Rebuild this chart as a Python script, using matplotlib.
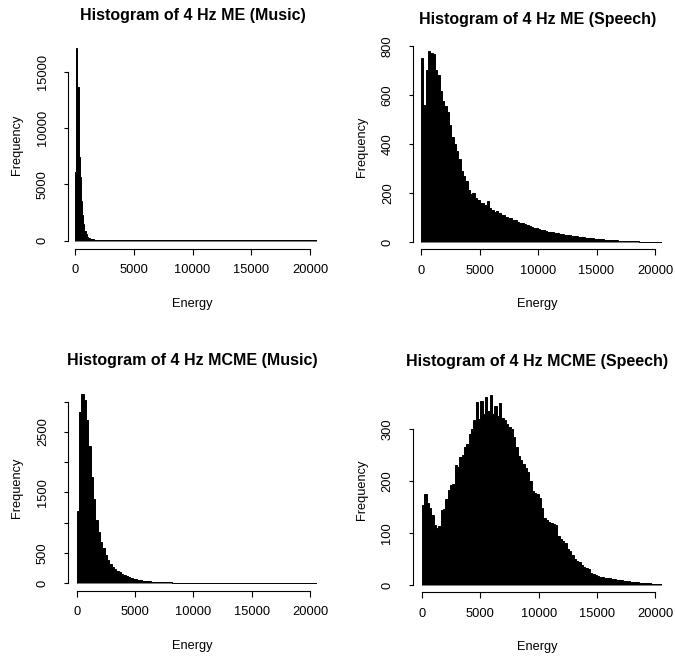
import numpy as np
import matplotlib
matplotlib.use('Agg')
import matplotlib.pyplot as plt

# ---- data ----
titles = [
    "Histogram of 4 Hz ME (Music)",
    "Histogram of 4 Hz ME (Speech)",
    "Histogram of 4 Hz MCME (Music)",
    "Histogram of 4 Hz MCME (Speech)",
]
x_label = "Energy"
y_label = "Frequency"
x_ticks = [0, 5000, 10000, 15000, 20000]

# bin widths (histogram breaks spacing)
me_music_bw = 100
me_speech_bw = 200
mcme_music_bw = 200
mcme_speech_bw = 200

# counts per bin, starting at energy 0
me_music = [
    6050, 17100, 13650, 7400, 5600, 3500, 2300, 1460, 830, 540,
    300, 240, 180, 130, 100, 90, 80, 70, 60, 50,
    45, 40, 36, 32, 28, 25, 22, 20, 18, 16,
    15, 14, 13, 12, 11, 10, 9, 9, 8, 8,
    7, 7, 6, 6, 6, 5, 5, 5, 5, 4,
    4, 4, 4, 4, 3, 3, 3, 3, 3, 3,
    3, 3, 2, 2, 2, 2, 2, 2, 2, 2,
    2, 2, 2, 2, 2, 1, 1, 1, 1, 1,
    1, 1, 1, 1, 1, 1, 1, 1, 1, 1,
    1, 1, 1, 1, 1, 1, 1, 1, 1, 1,
    1, 1, 1, 1, 1, 1, 1, 1, 1, 1,
    1, 1, 1, 1, 1, 1, 1, 1, 1, 1,
    1, 1, 1, 1, 1, 1, 1, 1, 1, 1,
    1, 1, 1, 1, 1, 1, 1, 1, 1, 1,
    1, 1, 1, 1, 1, 1, 1, 1, 1, 1,
    1, 1, 1, 1, 1, 1, 1, 1, 1, 1,
    1, 1, 1, 1, 1, 1, 1, 1, 1, 1,
    1, 1, 1, 1, 1, 1, 1, 1, 1, 1,
    1, 1, 1, 1, 1, 1, 1, 1, 1, 1,
    1, 1, 1, 1, 1, 1, 1, 1, 1, 1,
    1, 1, 1, 1, 1, 1,
]
me_speech = [
    750, 560, 700, 778, 772, 766, 700, 680, 615, 575,
    555, 530, 478, 430, 400, 372, 340, 290, 268, 248,
    212, 198, 200, 180, 172, 160, 158, 150, 168, 140,
    130, 125, 126, 118, 112, 110, 104, 98, 99, 92,
    90, 84, 80, 77, 76, 70, 66, 64, 58, 57,
    54, 50, 49, 44, 43, 41, 40, 38, 37, 35,
    33, 31, 30, 28, 26, 25, 24, 22, 21, 20,
    19, 18, 17, 16, 14, 13, 12, 12, 11, 10,
    9, 9, 8, 8, 7, 7, 6, 6, 5, 5,
    4, 4, 4, 3, 3, 3, 3, 2, 2, 2,
    2, 1, 1,
]
mcme_music = [
    1200, 2830, 3135, 3025, 2690, 2265, 1760, 1400, 1050, 850,
    690, 580, 470, 385, 320, 270, 235, 205, 180, 160,
    135, 115, 98, 84, 73, 64, 56, 50, 45, 40,
    36, 32, 29, 27, 25, 22, 20, 18, 16, 15,
    14, 13, 12, 11, 10, 10, 9, 9, 8, 8,
    7, 7, 7, 6, 6, 6, 5, 5, 5, 5,
    4, 4, 4, 4, 4, 3, 3, 3, 3, 3,
    3, 3, 3, 2, 2, 2, 2, 2, 2, 2,
    2, 2, 2, 2, 1, 1, 1, 1, 1, 1,
    1, 1, 1, 1, 1, 1, 1, 1, 1, 1,
    1, 1, 1,
]
mcme_speech = [
    155, 175, 158, 148, 135, 116, 110, 113, 145, 147,
    165, 183, 192, 194, 232, 228, 246, 250, 266, 272,
    290, 300, 318, 352, 320, 355, 330, 362, 335, 367,
    330, 345, 325, 350, 322, 318, 310, 305, 300, 285,
    265, 248, 240, 233, 225, 218, 200, 182, 178, 175,
    168, 148, 130, 125, 122, 120, 118, 116, 95, 88,
    84, 80, 70, 66, 58, 50, 47, 44, 38, 35,
    33, 30, 24, 21, 19, 18, 16, 15, 14, 13,
    13, 12, 11, 10, 10, 9, 8, 8, 7, 6,
    6, 5, 5, 4, 4, 3, 3, 3, 2, 2,
    2, 2, 1,
]

me_music_yticks = [0, 5000, 10000, 15000]
me_music_ylabels = ["0", "5000", "10000", "15000"]
me_speech_yticks = [0, 200, 400, 600, 800]
me_speech_ylabels = ["0", "200", "400", "600", "800"]
mcme_music_yticks = [0, 500, 1000, 1500, 2000, 2500, 3000]
mcme_music_ylabels = ["0", "500", "", "1500", "", "2500", ""]
mcme_speech_yticks = [0, 100, 200, 300]
mcme_speech_ylabels = ["0", "100", "200", "300"]

# ---- layout, in output pixels ----
W, H = 675, 658
X_END = 20600
# x of energy 0, px per unit x, y of count 0, px per unit y, y-axis line x, x-axis line y, top value
layouts = [
    (75.0, 235.0 / 20000, 240.5, 168.8 / 15000, 68.0, 248.5, 17784),
    (421.0, 234.0 / 20000, 242.3, 196.6 / 800, 413.3, 249.3, 806),
    (76.7, 233.3 / 20000, 583.3, 181.6 / 3000, 68.3, 590.7, 3265),
    (422.0, 233.3 / 20000, 585.0, 155.7 / 300, 412.7, 592.3, 381.7),
]

counts = [me_music, me_speech, mcme_music, mcme_speech]
widths = [me_music_bw, me_speech_bw, mcme_music_bw, mcme_speech_bw]
yticks = [me_music_yticks, me_speech_yticks, mcme_music_yticks, mcme_speech_yticks]
ylabels = [me_music_ylabels, me_speech_ylabels, mcme_music_ylabels, mcme_speech_ylabels]

text_font = ['Liberation Sans', 'DejaVu Sans']

fig = plt.figure(figsize=(W / 100, H / 100), dpi=100)

for i in range(4):
    x0, xu, y0, yu, yax, xax, ytop = layouts[i]
    left, right = yax, x0 + X_END * xu
    top, bottom = y0 - ytop * yu, xax
    ax = fig.add_axes([left / W, 1 - bottom / H, (right - left) / W, (bottom - top) / H])
    ax.set_xlim(-(x0 - yax) / xu, X_END)
    ax.set_ylim(-(xax - y0) / yu, ytop)

    c = np.array(counts[i], dtype=float)
    edges = np.arange(len(c) + 1) * widths[i]
    # one filled outline, so neighbouring bars leave no white seams
    ax.stairs(c, edges, baseline=0, fill=True, facecolor='black',
              edgecolor='black', linewidth=0.7)

    for s in ['top', 'right']:
        ax.spines[s].set_visible(False)
    ax.spines['left'].set_bounds(0, yticks[i][-1])
    ax.spines['bottom'].set_bounds(0, 20000)
    ax.spines['left'].set_linewidth(0.8)
    ax.spines['bottom'].set_linewidth(0.8)

    ax.set_xticks(x_ticks)
    ax.set_xticklabels([str(v) for v in x_ticks], family=text_font, fontsize=9.3)
    ax.set_yticks(yticks[i])
    ax.set_yticklabels(ylabels[i], family=text_font, fontsize=9.3,
                       rotation=90, va='center')
    ax.tick_params(axis='x', direction='out', length=4, width=0.8, pad=7)
    ax.tick_params(axis='y', direction='out', length=3, width=0.8, pad=11)

    ax.set_title(titles[i], fontsize=11.5, fontweight='bold', family=text_font, pad=14.8)
    h_px = bottom - top
    w_px = right - left
    ax.set_xlabel(x_label, family=text_font, fontsize=9.2, va='center')
    ax.xaxis.set_label_coords(0.5, -55 / h_px)
    ax.set_ylabel(y_label, family=text_font, fontsize=9.2, va='center')
    ax.yaxis.set_label_coords(-51 / w_px, 0.5)

fig.savefig('out.png', dpi=100)
